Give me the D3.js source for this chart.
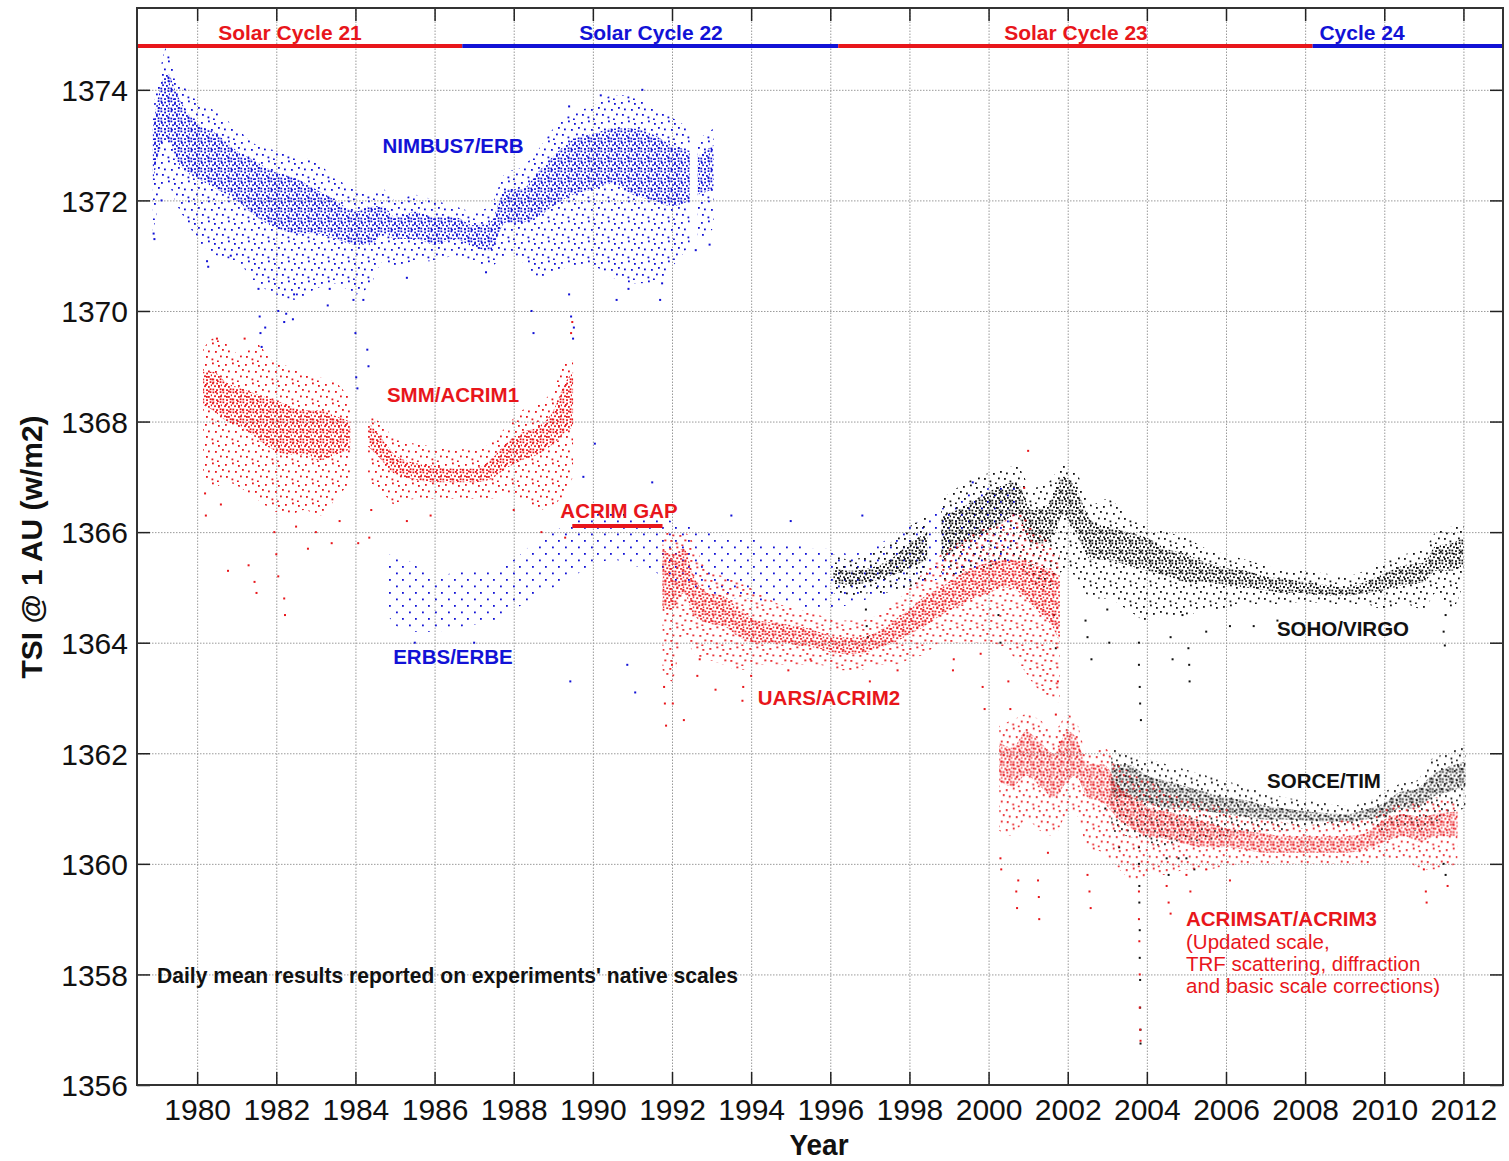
<!DOCTYPE html>
<html><head><meta charset="utf-8">
<script src="https://cdn.jsdelivr.net/npm/d3@7"></script>
<style>body{margin:0;background:#fff}svg{display:block}</style>
</head><body>
<svg id="chart" width="1509" height="1161"></svg>
<script>
// ---------------- DATA ----------------
// Ticks
const xTicks = [1980,1982,1984,1986,1988,1990,1992,1994,1996,1998,2000,2002,2004,2006,2008,2010,2012];
const yTicks = [1356,1358,1360,1362,1364,1366,1368,1370,1372,1374];

// Solar cycles (start/end year)
const cycleNames  = ["Solar Cycle 21","Solar Cycle 22","Solar Cycle 23","Cycle 24"];
const cycleStarts = [1976.2, 1986.7, 1996.2, 2008.19];
const cycleEnds   = [1986.7, 1996.2, 2008.19, 2019.9];
const acrimGap    = [1989.48, 1991.76];

// NIMBUS7/ERB (blue): dense band (core) and sparse envelope per time bin
const nimbusYear   = [1978.88,1979.05,1979.25,1979.5,1979.75,1980.0,1980.5,1981.0,1981.5,1982.0,1982.5,1983.0,1983.5,1984.0,1984.4,1984.7,1985.0,1985.5,1986.0,1986.5,1987.0,1987.4,1987.8,1988.2,1988.6,1989.0,1989.5,1990.0,1990.5,1991.0,1991.5,1992.0,1992.45,null,1992.65,1993.05];
const nimbusCoreLo = [1372.3,1372.9,1373.1,1372.7,1372.5,1372.4,1372.2,1372.0,1371.7,1371.5,1371.4,1371.4,1371.3,1371.2,1371.2,1371.4,1371.3,1371.3,1371.2,1371.3,1371.15,1371.1,1371.6,1371.6,1371.7,1371.9,1372.1,1372.2,1372.3,1372.1,1372.0,1371.9,1372.0,null,1372.1,1372.2];
const nimbusCoreHi = [1373.3,1374.0,1374.3,1373.9,1373.6,1373.4,1373.2,1372.9,1372.7,1372.5,1372.4,1372.2,1372.0,1371.8,1371.9,1371.9,1371.7,1371.8,1371.7,1371.7,1371.55,1371.6,1372.2,1372.2,1372.5,1372.8,1373.1,1373.2,1373.3,1373.3,1373.2,1373.0,1372.9,null,1372.8,1373.0];
const nimbusEnvLo  = [1371.4,1372.0,1372.3,1371.9,1371.6,1371.3,1371.0,1370.9,1370.5,1370.3,1370.2,1370.4,1370.5,1370.3,1370.5,1370.9,1370.8,1370.9,1370.9,1371.0,1370.9,1370.8,1371.0,1370.9,1370.6,1370.7,1370.8,1370.8,1370.6,1370.5,1370.5,1370.8,1371.2,null,1371.2,1371.5];
const nimbusEnvHi  = [1373.6,1374.3,1374.8,1374.2,1374.0,1373.8,1373.6,1373.3,1373.0,1372.9,1372.8,1372.7,1372.4,1372.2,1372.1,1372.2,1372.0,1372.1,1372.0,1371.9,1371.8,1371.9,1372.5,1372.6,1372.9,1373.3,1373.6,1373.7,1373.9,1373.9,1373.7,1373.5,1373.3,null,1373.1,1373.3];
const nimbusOutliers = [[1978.9,1371.4],[1978.92,1371.3],[1979.1,1372.0],[1980.25,1370.9],[1980.28,1370.8],[1980.85,1371.0],[1981.55,1370.4],[1981.58,1369.9],[1981.6,1369.6],[1981.63,1369.35],[1981.72,1369.7],[1982.05,1370.0],[1982.2,1369.8],[1982.25,1369.95],[1982.42,1369.85],[1982.45,1370.3],[1983.3,1370.1],[1983.35,1370.4],[1983.95,1370.2],[1984.0,1369.6],[1984.02,1368.8],[1984.05,1368.6],[1984.3,1369.3],[1984.33,1369.0],[1984.2,1370.2],[1985.3,1370.6],[1987.3,1370.7],[1988.45,1370.0],[1988.5,1369.6],[1989.4,1370.3],[1989.45,1369.9],[1989.5,1369.5],[1989.52,1369.7],[1990.6,1370.2],[1990.9,1370.4],[1991.7,1370.2],[1991.75,1370.5],[1992.6,1371.1],[1992.95,1371.2],[1991.25,1374.0],[1990.2,1373.9],[1989.4,1373.7]];

// SMM/ACRIM1 (red)
const acrim1Year   = [1980.15,1980.4,1980.75,1981.1,1981.5,1981.9,1982.3,1982.7,1983.1,1983.5,1983.87,null,1984.32,1984.6,1985.0,1985.5,1986.0,1986.5,1987.0,1987.4,1987.8,1988.2,1988.6,1989.0,1989.3,1989.5];
const acrim1CoreLo = [1368.3,1368.2,1368.0,1367.9,1367.7,1367.5,1367.4,1367.4,1367.3,1367.4,1367.5,null,1367.55,1367.35,1367.05,1366.95,1366.9,1366.9,1366.9,1366.95,1367.15,1367.3,1367.4,1367.6,1367.8,1367.9];
const acrim1CoreHi = [1368.9,1368.9,1368.7,1368.6,1368.5,1368.4,1368.3,1368.2,1368.2,1368.1,1368.0,null,1368.0,1367.75,1367.4,1367.25,1367.2,1367.15,1367.15,1367.3,1367.6,1367.8,1367.9,1368.2,1368.7,1368.9];
const acrim1EnvLo  = [1367.0,1366.8,1366.9,1366.8,1366.6,1366.4,1366.3,1366.4,1366.3,1366.6,1366.9,null,1366.9,1366.8,1366.5,1366.6,1366.6,1366.6,1366.6,1366.6,1366.7,1366.6,1366.4,1366.5,1366.7,1367.0];
const acrim1EnvHi  = [1369.3,1369.5,1369.4,1369.2,1369.4,1369.1,1369.0,1368.9,1368.8,1368.7,1368.4,null,1368.1,1368.0,1367.7,1367.6,1367.55,1367.5,1367.5,1367.6,1367.9,1368.2,1368.3,1368.6,1369.1,1369.1];
const acrim1Outliers = [[1980.2,1366.7],[1980.22,1366.3],[1980.6,1366.5],[1980.78,1365.3],[1981.3,1365.4],[1981.45,1365.1],[1981.5,1364.9],[1981.95,1366.0],[1982.0,1365.6],[1982.05,1365.2],[1982.2,1364.8],[1982.22,1364.5],[1982.5,1366.1],[1982.8,1365.7],[1983.0,1366.0],[1983.4,1365.8],[1983.6,1366.2],[1984.07,1365.8],[1984.35,1365.9],[1984.4,1366.4],[1985.3,1366.2],[1985.9,1366.3],[1988.0,1366.4],[1988.7,1366.0],[1989.3,1365.9],[1989.45,1366.3],[1989.45,1369.6],[1989.48,1369.8],[1980.5,1369.5],[1981.2,1369.5]];

// ERBS/ERBE (blue, sparse)
const erbsYear = [1984.8,1985.3,1986.0,1986.8,1987.5,1988.0,1988.5,1989.0,1989.5,1990.0,1990.5,1991.0,1991.5,1992.0,1992.5,1993.0,1993.5,1994.0,1994.5,1995.0,1995.5,1996.0,1996.5,1997.0,1997.5,1998.0,1998.5,1999.0,1999.5,2000.0,2000.7];
const erbsLo   = [1364.5,1364.2,1364.2,1364.3,1364.4,1364.6,1364.8,1365.0,1365.2,1365.4,1365.5,1365.4,1365.3,1365.1,1365.0,1364.9,1364.8,1364.8,1364.7,1364.7,1364.6,1364.6,1364.7,1364.8,1364.9,1365.0,1365.1,1365.2,1365.3,1365.4,1365.5];
const erbsHi   = [1365.6,1365.5,1365.2,1365.3,1365.3,1365.5,1365.8,1366.0,1366.2,1366.3,1366.4,1366.3,1366.3,1366.2,1366.1,1366.0,1365.9,1365.9,1365.8,1365.8,1365.7,1365.7,1365.6,1365.7,1365.9,1366.1,1366.3,1366.5,1366.7,1366.8,1366.9];
const erbsOutliers = [[1989.76,1367.0],[1990.05,1367.6],[1991.5,1366.9],[1989.43,1363.3],[1990.87,1363.6],[1991.07,1363.1],[1996.81,1366.3],[1999.6,1366.9],[1993.5,1366.3],[1995.0,1366.2],[1987.0,1364.0],[1985.5,1364.0]];

// UARS/ACRIM2 (red)
const acrim2Year   = [1991.76,1992.0,1992.3,1992.55,1992.9,1993.3,1993.7,1994.2,1994.7,1995.2,1995.7,1996.2,1996.7,1997.2,1997.6,1998.0,1998.4,1998.8,1999.2,1999.6,2000.0,2000.4,2000.8,2001.2,2001.6,2001.8];
const acrim2CoreLo = [1364.6,1364.6,1364.9,1364.5,1364.35,1364.3,1364.1,1364.0,1364.0,1363.95,1363.9,1363.8,1363.8,1363.9,1364.0,1364.15,1364.3,1364.5,1364.65,1364.8,1364.9,1365.0,1364.9,1364.6,1364.3,1364.0];
const acrim2CoreHi = [1365.7,1365.6,1365.7,1365.2,1364.9,1364.85,1364.6,1364.4,1364.35,1364.3,1364.2,1364.1,1364.1,1364.2,1364.4,1364.6,1364.85,1365.0,1365.2,1365.35,1365.45,1365.5,1365.5,1365.4,1365.3,1365.2];
const acrim2EnvLo  = [1363.5,1363.3,1364.2,1363.8,1363.7,1363.6,1363.5,1363.6,1363.6,1363.6,1363.6,1363.5,1363.5,1363.6,1363.6,1363.7,1363.8,1364.0,1364.0,1364.0,1364.0,1363.9,1363.6,1363.2,1363.0,1362.9];
const acrim2EnvHi  = [1366.0,1366.0,1366.0,1365.8,1365.3,1365.2,1365.1,1364.9,1364.7,1364.6,1364.5,1364.4,1364.4,1364.5,1364.7,1365.0,1365.3,1365.6,1365.8,1366.0,1366.1,1366.2,1366.4,1366.0,1365.8,1365.6];
const acrim2Outliers = [[1991.8,1363.2],[1991.82,1362.9],[1991.85,1362.5],[1992.0,1363.6],[1992.02,1362.9],[1992.3,1362.6],[1992.64,1363.4],[1992.7,1363.7],[1993.1,1363.15],[1993.78,1362.95],[1993.8,1363.2],[1994.0,1363.4],[1994.94,1363.5],[1995.5,1363.7],[1997.0,1363.3],[1997.7,1363.5],[1999.1,1363.5],[1999.12,1363.7],[1999.8,1363.8],[1999.85,1363.2],[1999.9,1362.8],[2000.5,1363.3],[2000.55,1362.8],[2001.7,1362.7],[2001.75,1363.3],[2001.8,1362.2],[2001.0,1367.47],[2000.9,1366.8]];

// SOHO/VIRGO (black)
const virgoYear   = [1996.08,1996.5,1997.0,1997.5,1998.0,1998.45,null,1998.8,1999.2,1999.7,2000.2,2000.7,2001.1,2001.5,2001.9,2002.2,2002.6,2003.0,2003.5,2004.0,2004.5,2005.0,2005.5,2006.0,2006.5,2007.0,2007.5,2008.0,2008.5,2009.0,2009.5,2010.0,2010.5,2011.0,2011.3,2011.7,2012.0];
const virgoCoreLo = [1365.1,1365.05,1365.1,1365.2,1365.35,1365.5,null,1365.5,1365.7,1365.9,1366.1,1366.3,1365.8,1365.8,1366.3,1366.0,1365.5,1365.5,1365.4,1365.3,1365.2,1365.1,1365.1,1365.05,1365.0,1364.95,1364.9,1364.9,1364.85,1364.85,1364.9,1364.95,1365.05,1365.1,1365.3,1365.3,1365.4];
const virgoCoreHi = [1365.35,1365.3,1365.35,1365.5,1365.8,1366.0,null,1366.3,1366.4,1366.6,1366.8,1366.9,1366.4,1366.5,1367.0,1366.8,1366.2,1366.1,1366.0,1365.9,1365.7,1365.6,1365.45,1365.35,1365.3,1365.2,1365.15,1365.1,1365.05,1365.0,1365.1,1365.25,1365.4,1365.45,1365.75,1365.8,1365.9];
const virgoEnvLo  = [1364.9,1364.8,1364.9,1364.9,1365.0,1365.1,null,1365.1,1365.2,1365.3,1365.4,1365.5,1365.1,1365.0,1365.3,1365.2,1364.8,1364.8,1364.6,1364.4,1364.5,1364.5,1364.6,1364.6,1364.7,1364.7,1364.7,1364.75,1364.7,1364.7,1364.7,1364.6,1364.7,1364.6,1364.9,1364.6,1365.1];
const virgoEnvHi  = [1365.6,1365.5,1365.6,1365.8,1366.1,1366.3,null,1366.6,1366.8,1367.0,1367.1,1367.2,1366.8,1366.9,1367.2,1367.1,1366.5,1366.6,1366.3,1366.1,1366.0,1365.9,1365.7,1365.6,1365.5,1365.4,1365.3,1365.3,1365.25,1365.2,1365.3,1365.5,1365.6,1365.7,1366.0,1366.1,1366.15];
const virgoOutliers = [[1996.9,1364.6],[1996.92,1364.3],[1996.95,1364.1],[2000.25,1364.5],[2000.3,1364.0],[2001.65,1364.5],[2001.7,1363.9],[2002.45,1364.4],[2002.5,1364.1],[2002.6,1363.7],[2003.0,1364.6],[2003.05,1364.0],[2003.8,1364.0],[2003.8,1363.6],[2003.82,1363.2],[2003.83,1362.9],[2003.85,1362.6],[2004.6,1364.1],[2004.65,1363.7],[2004.9,1364.5],[2005.05,1363.9],[2005.07,1363.6],[2005.08,1363.3],[2005.5,1364.2],[2006.1,1364.3],[2006.7,1364.3],[2007.3,1364.4],[2011.5,1364.2],[2011.53,1363.95],[2011.55,1364.5]];

// SORCE/TIM (black)
const sorceYear   = [2003.1,2003.5,2004.0,2004.5,2005.0,2005.5,2006.0,2006.5,2007.0,2007.5,2008.0,2008.5,2009.0,2009.5,2010.0,2010.4,2010.8,2011.2,2011.6,2012.05];
const sorceCoreLo = [1361.2,1361.2,1361.1,1361.0,1361.0,1360.95,1360.9,1360.85,1360.8,1360.8,1360.78,1360.77,1360.76,1360.8,1360.85,1361.0,1361.0,1361.2,1361.3,1361.4];
const sorceCoreHi = [1361.8,1361.8,1361.6,1361.5,1361.4,1361.3,1361.2,1361.15,1361.05,1361.0,1360.95,1360.92,1360.9,1360.98,1361.1,1361.3,1361.35,1361.6,1361.75,1361.85];
const sorceEnvLo  = [1360.6,1360.5,1360.4,1360.3,1360.4,1360.4,1360.5,1360.55,1360.6,1360.6,1360.65,1360.65,1360.65,1360.65,1360.6,1360.7,1360.6,1360.7,1360.9,1361.0];
const sorceEnvHi  = [1362.1,1362.0,1361.9,1361.8,1361.7,1361.6,1361.5,1361.4,1361.3,1361.2,1361.15,1361.1,1361.05,1361.1,1361.3,1361.45,1361.5,1361.9,1362.0,1362.15];
const sorceOutliers = [[2003.8,1360.3],[2003.8,1360.0],[2003.81,1359.6],[2003.81,1359.3],[2003.82,1358.8],[2003.82,1358.3],[2003.83,1357.9],[2003.83,1357.4],[2003.84,1357.0],[2003.84,1356.75],[2004.5,1360.1],[2004.55,1359.8],[2004.8,1360.1],[2005.0,1360.1],[2005.2,1359.9],[2011.5,1360.0],[2011.55,1359.8],[2003.3,1360.3],[2002.95,1361.0]];

// ACRIMSAT/ACRIM3 (red)
const acrim3Year   = [2000.27,2000.6,2000.95,2001.3,2001.65,2002.0,2002.2,2002.5,2002.9,2003.3,2003.7,2004.1,2004.5,2005.0,2005.5,2006.0,2006.5,2007.0,2007.5,2008.0,2008.5,2009.0,2009.5,2010.0,2010.5,2010.9,2011.3,2011.85];
const acrim3CoreLo = [1361.5,1361.4,1361.6,1361.4,1361.2,1361.5,1361.6,1361.2,1361.1,1360.8,1360.6,1360.5,1360.45,1360.35,1360.3,1360.3,1360.25,1360.2,1360.2,1360.2,1360.2,1360.2,1360.25,1360.4,1360.5,1360.4,1360.5,1360.5];
const acrim3CoreHi = [1362.2,1362.1,1362.4,1362.2,1362.0,1362.4,1362.3,1361.8,1361.8,1361.4,1361.2,1361.0,1360.95,1360.85,1360.75,1360.65,1360.6,1360.55,1360.5,1360.5,1360.5,1360.5,1360.55,1360.8,1360.9,1360.85,1360.9,1360.95];
const acrim3EnvLo  = [1360.6,1360.5,1360.8,1360.6,1360.5,1360.9,1360.9,1360.3,1360.2,1359.9,1359.7,1359.8,1359.8,1359.9,1359.9,1359.95,1360.0,1360.0,1360.0,1360.0,1360.0,1360.0,1360.0,1360.1,1360.1,1359.9,1359.9,1360.0];
const acrim3EnvHi  = [1362.5,1362.6,1362.7,1362.6,1362.4,1362.7,1362.6,1362.0,1362.1,1361.8,1361.6,1361.5,1361.3,1361.2,1361.1,1361.0,1360.85,1360.8,1360.75,1360.7,1360.75,1360.8,1360.8,1361.0,1361.1,1361.1,1361.2,1361.1];
const acrim3Outliers = [[2000.3,1360.1],[2000.32,1359.9],[2000.7,1359.5],[2000.72,1359.2],[2000.75,1359.7],[2001.25,1359.7],[2001.27,1359.4],[2001.28,1359.0],[2001.5,1360.2],[2002.5,1359.8],[2002.55,1359.5],[2002.58,1359.2],[2003.8,1359.5],[2003.8,1359.0],[2003.81,1358.6],[2003.82,1358.0],[2003.82,1357.4],[2003.83,1357.0],[2003.84,1356.8],[2004.5,1359.6],[2004.55,1359.3],[2004.6,1359.1],[2005.0,1359.8],[2005.1,1359.5],[2005.5,1359.9],[2006.1,1359.7],[2011.0,1359.9],[2011.05,1359.5],[2011.07,1359.3],[2011.6,1359.6]];

// ---------------- STYLE ----------------
const BLUE = "#1212d6", RED = "#e8161b", BLACK = "#111111";
const FONT = "'Liberation Sans', Arial, Helvetica, sans-serif";

// ---------------- CHART ----------------
const svg = d3.select("#chart");
const M = {l:137, t:8, r:1503, b:1085};
const x = d3.scaleLinear().domain([1978.48, 2013.0]).range([M.l, M.r]);
const y = d3.scaleLinear().domain([1356, 1375.48]).range([M.b, M.t]);

const defs = svg.append("defs");
defs.append("clipPath").attr("id","plotClip").append("rect")
  .attr("x",M.l).attr("y",M.t).attr("width",M.r-M.l).attr("height",M.b-M.t);

function makePattern(id, color, tile, dots, size, dx, dy){
  const p = defs.append("pattern").attr("id",id).attr("patternUnits","userSpaceOnUse")
    .attr("width",tile).attr("height",tile).attr("patternTransform",`translate(${dx},${dy})`);
  dots.forEach(([a,b]) => p.append("rect").attr("x",a).attr("y",b)
    .attr("width",size).attr("height",size).attr("fill",color));
}
// dot textures (irregular tiles)
const coreDots = [[0.5,0.5],[4.2,1.6],[7.6,0.2],[2.1,4.3],[6.0,5.0],[8.8,3.4],[0.4,7.6],[4.1,8.2],[7.7,7.4]];
const envDots  = [[1,2],[8,0.5],[14,3],[18,7],[4,8.5],[11,9],[16,13.5],[2,14],[7.5,16.5],[13,18.5]];
const sparseDots = [[2,3],[9,9.5]];

function narrow(sel, ratio){
  sel.each(function(){
    const L = this.getComputedTextLength();
    this.setAttribute("textLength", (L*ratio).toFixed(1));
    this.setAttribute("lengthAdjust","spacingAndGlyphs");
  });
}

// Grid
const grid = svg.append("g");
grid.append("g").attr("transform",`translate(0,${M.b})`)
  .call(d3.axisBottom(x).tickValues(xTicks).tickSize(-(M.b-M.t)).tickFormat(""))
  .call(g=>g.select(".domain").remove())
  .selectAll("line").attr("stroke","#9a9a9a").attr("stroke-width",1).attr("stroke-dasharray","1.5,1.5");
grid.append("g").attr("transform",`translate(${M.l},0)`)
  .call(d3.axisLeft(y).tickValues(yTicks).tickSize(-(M.r-M.l)).tickFormat(""))
  .call(g=>g.select(".domain").remove())
  .selectAll("line").attr("stroke","#9a9a9a").attr("stroke-width",1).attr("stroke-dasharray","1.5,1.5");

// Series
function rows(years, cLo, cHi, eLo, eHi){
  return years.map((yr,i)=>({year:yr, cLo:cLo?cLo[i]:null, cHi:cHi?cHi[i]:null, eLo:eLo[i], eHi:eHi[i]}));
}
const series = [
  {key:"erbs",   color:BLUE,  rows:rows(erbsYear,null,null,erbsLo,erbsHi), out:erbsOutliers, off:[5,2], sparse:true},
  {key:"nimbus", color:BLUE,  rows:rows(nimbusYear,nimbusCoreLo,nimbusCoreHi,nimbusEnvLo,nimbusEnvHi), out:nimbusOutliers, off:[0,0]},
  {key:"virgo",  color:BLACK, rows:rows(virgoYear,virgoCoreLo,virgoCoreHi,virgoEnvLo,virgoEnvHi), out:virgoOutliers, off:[1,2]},
  {key:"sorce",  color:BLACK, rows:rows(sorceYear,sorceCoreLo,sorceCoreHi,sorceEnvLo,sorceEnvHi), out:sorceOutliers, off:[1.5,0.6]},
  {key:"acrim1", color:RED,   rows:rows(acrim1Year,acrim1CoreLo,acrim1CoreHi,acrim1EnvLo,acrim1EnvHi), out:acrim1Outliers, off:[2,1]},
  {key:"acrim2", color:RED,   rows:rows(acrim2Year,acrim2CoreLo,acrim2CoreHi,acrim2EnvLo,acrim2EnvHi), out:acrim2Outliers, off:[4.2,3]},
  {key:"acrim3", color:RED,   rows:rows(acrim3Year,acrim3CoreLo,acrim3CoreHi,acrim3EnvLo,acrim3EnvHi), out:acrim3Outliers, off:[2.4,3.6]}
];

const plot = svg.append("g").attr("clip-path","url(#plotClip)");
series.forEach(s=>{
  const [dx,dy] = s.off;
  makePattern(`env-${s.key}`, s.color, s.sparse?13:20, s.sparse?sparseDots:envDots, 1.8, dx*2, dy*2);
  makePattern(`core-${s.key}`, s.color, 10, coreDots, 1.8, dx, dy);
  const g = plot.append("g");
  const envArea = d3.area().defined(d=>d.year!=null)
    .x(d=>x(d.year)).y0(d=>y(d.eLo)).y1(d=>y(d.eHi)).curve(d3.curveMonotoneX);
  g.append("path").datum(s.rows).attr("d",envArea).attr("fill",`url(#env-${s.key})`);
  if (!s.sparse){
    const coreArea = d3.area().defined(d=>d.year!=null)
      .x(d=>x(d.year)).y0(d=>y(d.cLo)).y1(d=>y(d.cHi)).curve(d3.curveMonotoneX);
    g.append("path").datum(s.rows).attr("d",coreArea).attr("fill",`url(#core-${s.key})`);
  }
  g.selectAll("rect.pt").data(s.out).join("rect").attr("class","pt")
    .attr("x",d=>x(d[0])-1).attr("y",d=>y(d[1])-1).attr("width",2).attr("height",2)
    .attr("fill",s.color);
});

// Solar cycle bar
const cyc = svg.append("g").attr("clip-path","url(#plotClip)");
const cycleColors = [RED, BLUE, RED, BLUE];
cycleNames.forEach((n,i)=>{
  cyc.append("line").attr("x1",x(cycleStarts[i])).attr("x2",x(cycleEnds[i]))
    .attr("y1",46).attr("y2",46).attr("stroke",cycleColors[i]).attr("stroke-width",4);
});
const cycleLabelX = [290, 651, 1076, 1362];
cycleNames.forEach((n,i)=>{
  svg.append("text").attr("x",cycleLabelX[i]).attr("y",40).attr("text-anchor","middle")
    .attr("font-family",FONT).attr("font-weight","bold").attr("font-size",21)
    .attr("fill",cycleColors[i]).text(n);
});

// ACRIM gap bar
svg.append("line").attr("x1",x(acrimGap[0])).attr("x2",x(acrimGap[1]))
  .attr("y1",526).attr("y2",526).attr("stroke",RED).attr("stroke-width",4);

// Axes ticks (inward) and labels
const axB = svg.append("g").attr("transform",`translate(0,${M.b})`)
  .call(d3.axisBottom(x).tickValues(xTicks).tickSize(-13).tickPadding(14).tickFormat(d3.format("d")));
const axL = svg.append("g").attr("transform",`translate(${M.l},0)`)
  .call(d3.axisLeft(y).tickValues(yTicks).tickSize(-13).tickPadding(9).tickFormat(d3.format("d")));
const axT = svg.append("g").attr("transform",`translate(0,${M.t})`)
  .call(d3.axisTop(x).tickValues(xTicks).tickSize(-13).tickFormat(""));
const axR = svg.append("g").attr("transform",`translate(${M.r},0)`)
  .call(d3.axisRight(y).tickValues(yTicks).tickSize(-13).tickFormat(""));
[axB,axL,axT,axR].forEach(a=>{
  a.select(".domain").remove();
  a.selectAll("line").attr("stroke","#222").attr("stroke-width",1.5);
  a.selectAll("text").attr("font-family",FONT).attr("font-size",30).attr("fill","#111");
});
axB.selectAll("text").attr("dy","0.71em");
axL.selectAll("text").attr("dy","0.36em");

// Frame
svg.append("rect").attr("x",M.l).attr("y",M.t).attr("width",M.r-M.l).attr("height",M.b-M.t)
  .attr("fill","none").attr("stroke","#333").attr("stroke-width",2);

// Axis titles
const xt = svg.append("text").attr("x",819).attr("y",1155).attr("text-anchor","middle")
  .attr("font-family",FONT).attr("font-weight","bold").attr("font-size",30).attr("fill","#111").text("Year");
narrow(xt, 0.93);
svg.append("text").attr("transform","translate(42,547) rotate(-90)").attr("text-anchor","middle")
  .attr("font-family",FONT).attr("font-weight","bold").attr("font-size",30).attr("fill","#111")
  .text("TSI @ 1 AU (w/m2)");

// Annotations
const ann = [
  {t:"NIMBUS7/ERB", x:453, y:146, c:BLUE, a:"middle"},
  {t:"SMM/ACRIM1", x:453, y:395, c:RED, a:"middle"},
  {t:"ACRIM GAP", x:619, y:511, c:RED, a:"middle"},
  {t:"ERBS/ERBE", x:453, y:657, c:BLUE, a:"middle"},
  {t:"UARS/ACRIM2", x:829, y:698, c:RED, a:"middle"},
  {t:"SOHO/VIRGO", x:1343, y:629, c:BLACK, a:"middle"},
  {t:"SORCE/TIM", x:1324, y:781, c:BLACK, a:"middle"},
  {t:"ACRIMSAT/ACRIM3", x:1186, y:919, c:RED, a:"start"}
];
ann.forEach(d=>{
  svg.append("text").attr("x",d.x).attr("y",d.y).attr("dy","0.35em").attr("text-anchor",d.a)
    .attr("font-family",FONT).attr("font-weight","bold").attr("font-size",20.5)
    .attr("fill",d.c).text(d.t);
});
["(Updated scale,","TRF scattering, diffraction","and basic scale corrections)"].forEach((t,i)=>{
  svg.append("text").attr("x",1186).attr("y",942+i*22).attr("dy","0.35em")
    .attr("font-family",FONT).attr("font-size",20.5).attr("fill",RED).text(t);
});
svg.append("text").attr("x",157).attr("y",975).attr("dy","0.35em")
  .attr("font-family",FONT).attr("font-weight","bold").attr("font-size",22).attr("fill","#111")
  .attr("textLength",581).attr("lengthAdjust","spacingAndGlyphs")
  .text("Daily mean results reported on experiments' native scales");
</script>
</body></html>
